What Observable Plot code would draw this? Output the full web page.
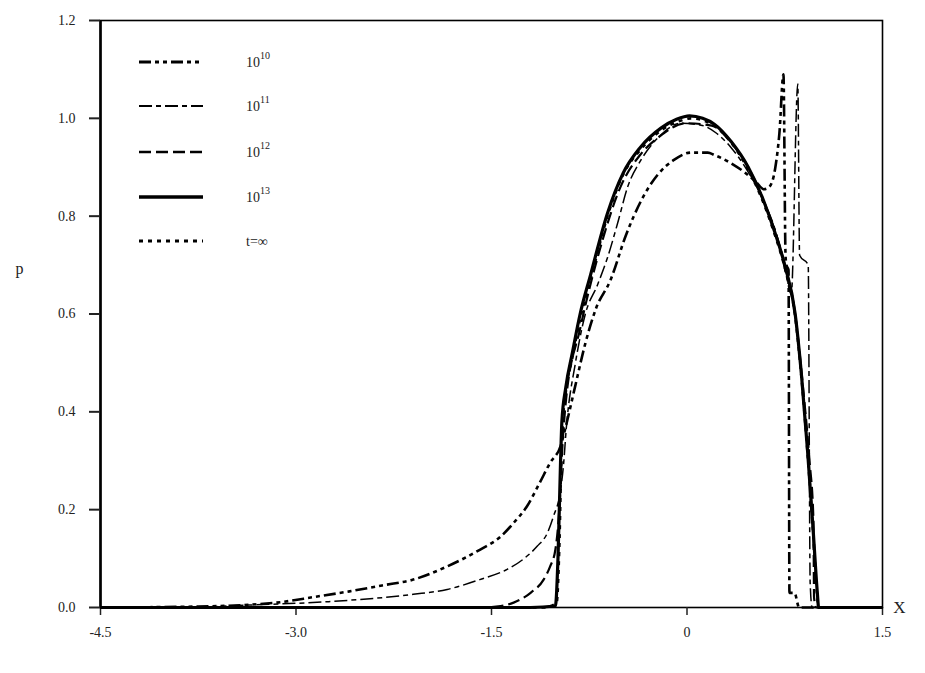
<!DOCTYPE html>
<html>
<head>
<meta charset="utf-8">
<script src="https://cdn.jsdelivr.net/npm/d3@7"></script>
<script src="https://cdn.jsdelivr.net/npm/@observablehq/plot@0.6"></script>
<style>
  body { margin: 0; background: white; }
  #wrap { position: relative; width: 925px; height: 673px; }
  #legend { position: absolute; left: 0; top: 0; pointer-events: none; }
</style>
</head>
<body>
<div id="wrap"></div>
<script>
// ---- data ----
const seriesNames = ["10^10", "10^11", "10^12", "10^13", "t=∞"];
const legendLabels = ["10", "10", "10", "10", "t=∞"];
const legendSup = ["10", "11", "12", "13", ""];

const xTicks = [-4.5, -3.0, -1.5, 0, 1.5];
const yTicks = [0, 0.2, 0.4, 0.6, 0.8, 1.0, 1.2];

// t = 10^10 (heavy dash-dot)
const x10 = [-4.5, -3.75, -3.15, -2.85, -2.59, -2.34, -2.1, -1.84, -1.59, -1.43, -1.33, -1.23, -1.13, -1.05, -0.97, -0.93, -0.86, -0.78, -0.70, -0.586, -0.47, -0.355, -0.224, -0.1, 0.03, 0.16, 0.21, 0.34, 0.44, 0.53, 0.59, 0.632, 0.678, 0.709, 0.74, 0.756, 0.763, 0.779, 0.786, 0.825, 0.86, 1.5];
const y10 = [0, 0.002, 0.01, 0.022, 0.033, 0.045, 0.057, 0.084, 0.118, 0.145, 0.173, 0.206, 0.255, 0.296, 0.33, 0.37, 0.45, 0.54, 0.61, 0.67, 0.76, 0.83, 0.885, 0.915, 0.93, 0.93, 0.925, 0.908, 0.89, 0.87, 0.855, 0.86, 0.90, 0.97, 1.09, 0.72, 0.70, 0.69, 0.03, 0.03, 0, 0];

// t = 10^11 (thin dash-dot)
const x11 = [-4.5, -3.75, -3.36, -2.75, -2.1, -1.84, -1.59, -1.38, -1.26, -1.15, -1.07, -1.025, -0.97, -0.948, -0.925, -0.856, -0.78, -0.686, -0.609, -0.532, -0.455, -0.355, -0.224, -0.046, 0.108, 0.224, 0.339, 0.47, 0.59, 0.69, 0.76, 0.80, 0.85, 0.864, 0.93, 0.945, 0.96, 1.5];
const y11 = [0, 0.001, 0.005, 0.012, 0.027, 0.037, 0.057, 0.078, 0.098, 0.125, 0.153, 0.186, 0.24, 0.29, 0.37, 0.5, 0.6, 0.66, 0.716, 0.786, 0.86, 0.914, 0.96, 0.99, 0.986, 0.97, 0.94, 0.89, 0.83, 0.76, 0.68, 0.64, 1.07, 0.72, 0.70, 0.05, 0, 0];

// t = 10^12 (dashed)
const x12 = [-4.5, -1.6, -1.43, -1.33, -1.2, -1.1, -1.05, -1.01, -0.98, -0.956, -0.93, -0.82, -0.66, -0.51, -0.36, -0.2, -0.01, 0.19, 0.34, 0.47, 0.59, 0.75, 0.83, 0.89, 0.94, 0.97, 0.975, 0.99, 1.5];
const y12 = [0, 0, 0.003, 0.01, 0.03, 0.057, 0.084, 0.118, 0.2, 0.33, 0.42, 0.57, 0.74, 0.86, 0.925, 0.965, 0.99, 0.985, 0.95, 0.90, 0.83, 0.70, 0.60, 0.45, 0.30, 0.18, 0.02, 0, 0];

// t = 10^13 (solid)
const x13 = [-4.5, -1.2, -1.01, -0.99, -0.97, -0.96, -0.93, -0.88, -0.82, -0.74, -0.61, -0.49, -0.36, -0.2, -0.08, 0.02, 0.12, 0.21, 0.34, 0.47, 0.59, 0.67, 0.75, 0.83, 0.88, 0.925, 0.97, 1.0, 1.01, 1.5];
const y13 = [0, 0, 0.003, 0.1, 0.3, 0.38, 0.45, 0.52, 0.6, 0.68, 0.806, 0.888, 0.94, 0.98, 0.998, 1.005, 1.0, 0.988, 0.952, 0.90, 0.83, 0.77, 0.70, 0.60, 0.47, 0.32, 0.15, 0.03, 0, 0];

// limit (dotted)
const xInf = [-4.5, -1.1, -1.0, -0.98, -0.96, -0.93, -0.88, -0.82, -0.74, -0.61, -0.49, -0.36, -0.2, -0.05, 0.03, 0.21, 0.34, 0.47, 0.59, 0.67, 0.75, 0.83, 0.88, 0.925, 0.97, 1.0, 1.01, 1.5];
const yInf = [0, 0, 0.01, 0.12, 0.35, 0.44, 0.51, 0.59, 0.67, 0.80, 0.885, 0.935, 0.975, 0.995, 1.0, 0.985, 0.95, 0.895, 0.825, 0.765, 0.695, 0.595, 0.465, 0.315, 0.145, 0.02, 0, 0];

// ---- styles ----
const styles = {
  "10^10": {dash: "12,4,4,4,4,4", width: 2.6},
  "10^11": {dash: "13,4,5,4", width: 1.5},
  "10^12": {dash: "12,5", width: 2.2},
  "10^13": {dash: null, width: 3.2},
  "t=∞": {dash: "4,5", width: 2.6}
};

const toRows = (xs, ys, s) => xs.map((x, i) => ({x, y: ys[i], s}));
const data = {
  "10^10": toRows(x10, y10, "10^10"),
  "10^11": toRows(x11, y11, "10^11"),
  "10^12": toRows(x12, y12, "10^12"),
  "10^13": toRows(x13, y13, "10^13"),
  "t=∞": toRows(xInf, yInf, "t=∞")
};

const drawOrder = ["t=∞", "10^12", "10^11", "10^10", "10^13"];
const lineMarks = drawOrder.map(k => Plot.line(data[k], {
  x: "x", y: "y", stroke: "black",
  curve: "monotone-x",
  strokeWidth: styles[k].width,
  strokeDasharray: styles[k].dash ?? undefined,
  strokeLinejoin: "round", strokeLinecap: "butt"
}));

const fmtX = d => d === 0 ? "0" : d.toFixed(1);
const fmtY = d => d.toFixed(1);

const chart = Plot.plot({
  width: 925,
  height: 673,
  marginLeft: 100,
  marginRight: 43,
  marginTop: 20,
  marginBottom: 66,
  style: {fontFamily: "Liberation Serif", fontSize: "14px", background: "white", color: "#222"},
  x: {domain: [-4.5, 1.5]},
  y: {domain: [0, 1.2]},
  marks: [
    Plot.frame({stroke: "black", strokeWidth: 1.6}),
    Plot.ruleX([-4.5], {stroke: "black", strokeWidth: 2.6}),
    Plot.axisY({ticks: yTicks, tickFormat: fmtY, tickSize: 11, tickPadding: 14, label: null, strokeWidth: 2}),
    Plot.axisX({ticks: xTicks, tickFormat: fmtX, tickSize: 8, tickPadding: 12, label: null, strokeWidth: 1.5}),
    ...lineMarks,
    Plot.text(["p"], {frameAnchor: "left", dx: -85, dy: -45, fontSize: 16, fill: "#222"}),
    Plot.text(["X"], {frameAnchor: "bottom-right", dx: 23, dy: 5, fontSize: 17, fill: "#222"})
  ]
});

const wrap = document.getElementById("wrap");
wrap.appendChild(chart);

// ---- legend (inside plot area, top-left) ----
const lg = d3.select(wrap).append("svg")
  .attr("id", "legend").attr("width", 925).attr("height", 673);
const legendY = [62, 106, 152, 197, 241];
seriesNames.forEach((k, i) => {
  lg.append("line")
    .attr("x1", 139).attr("x2", 203)
    .attr("y1", legendY[i]).attr("y2", legendY[i])
    .attr("stroke", "black")
    .attr("stroke-width", styles[k].width + 0.4)
    .attr("stroke-dasharray", styles[k].dash)
    .attr("stroke-linecap", "butt");
  const t = lg.append("text")
    .attr("x", 246).attr("y", legendY[i] + 5)
    .attr("font-family", "Liberation Serif").attr("font-size", 14).attr("fill", "#222")
    .text(legendLabels[i]);
  if (legendSup[i]) {
    t.append("tspan").attr("dy", -8).attr("font-size", 10).text(legendSup[i]);
  }
});
</script>
</body>
</html>
